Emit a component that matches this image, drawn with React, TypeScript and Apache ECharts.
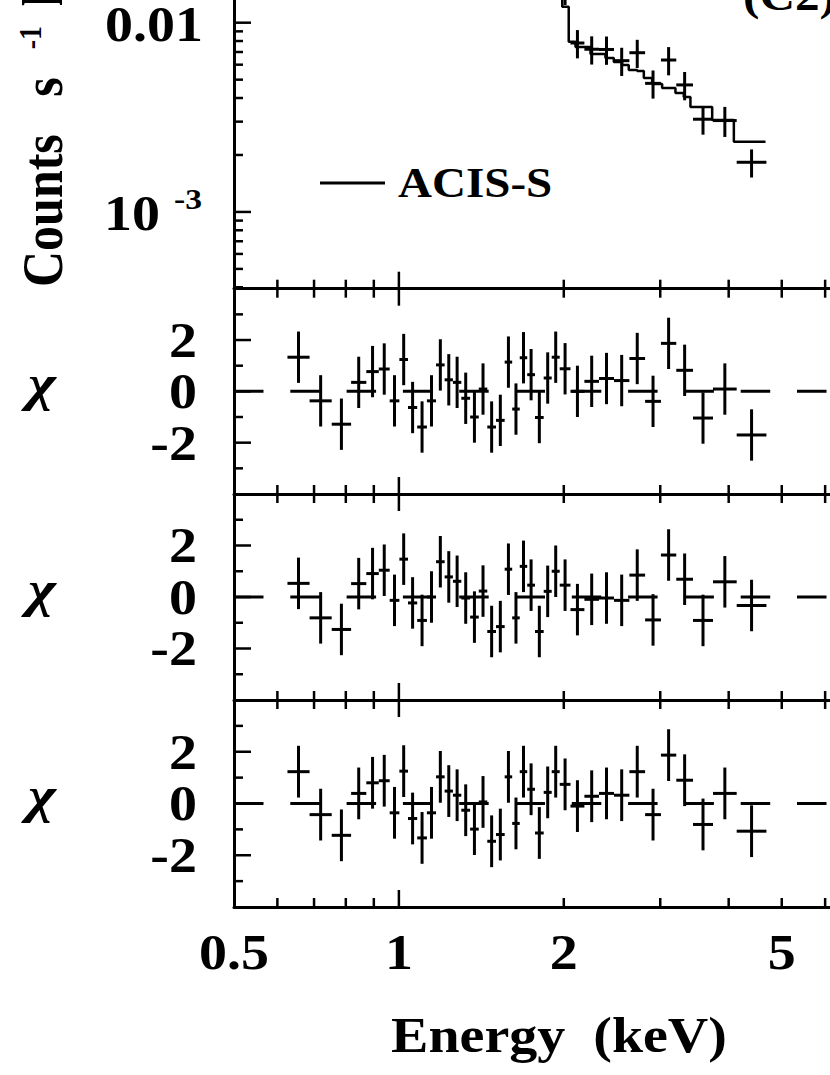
import React, { useEffect, useRef } from "react";
import * as echarts from "echarts";

// ---------- data ----------
// energy bin edges (keV) shared by the spectrum and the three residual panels
const binEdges = [0.626, 0.687, 0.754, 0.818, 0.872, 0.919, 0.962, 1.002, 1.039, 1.080, 1.125, 1.169, 1.212, 1.255, 1.300, 1.349, 1.399, 1.450, 1.504, 1.560, 1.610, 1.662, 1.715, 1.772, 1.838, 1.901, 1.966, 2.057, 2.181, 2.319, 2.470, 2.635, 2.815, 3.009, 3.209, 3.443, 3.745, 4.137, 4.688];

// count rates (counts s^-1 keV^-1); the low-energy bins lie above the visible crop
const countRates = [0.030, 0.042, 0.050, 0.061, 0.068, 0.074, 0.072, 0.085, 0.080, 0.072, 0.075, 0.082, 0.076, 0.071, 0.062, 0.055, 0.054, 0.045, 0.041, 0.046, 0.036, 0.037, 0.031, 0.024, 0.025, 0.024, 0.0150, 0.00781, 0.00724, 0.00722, 0.00630, 0.00694, 0.00478, 0.00635, 0.00469, 0.00309, 0.00304, 0.00183];
const countErrors = [0.005, 0.006, 0.007, 0.008, 0.008, 0.009, 0.008, 0.009, 0.009, 0.008, 0.008, 0.009, 0.008, 0.008, 0.007, 0.007, 0.007, 0.006, 0.006, 0.006, 0.005, 0.005, 0.005, 0.004, 0.004, 0.004, 0.0026, 0.00133, 0.00123, 0.00123, 0.00107, 0.00118, 0.00081, 0.00108, 0.00080, 0.00053, 0.00055, 0.00031];

// folded model (step function): left edges of each step (+ final end) and levels
const modelEnergies = [0.626, 0.687, 0.754, 0.818, 0.872, 0.919, 0.962, 1.002, 1.039, 1.080, 1.125, 1.169, 1.212, 1.255, 1.300, 1.349, 1.399, 1.450, 1.504, 1.560, 1.610, 1.662, 1.715, 1.772, 1.838, 1.901, 1.987, 2.042, 2.101, 2.238, 2.383, 2.468, 2.556, 2.628, 2.723, 2.800, 2.900, 3.024, 3.198, 3.312, 3.406, 3.732, 4.088, 4.670];
const modelRates = [0.026, 0.043, 0.053, 0.060, 0.065, 0.070, 0.075, 0.080, 0.082, 0.078, 0.076, 0.077, 0.074, 0.070, 0.064, 0.058, 0.052, 0.048, 0.044, 0.042, 0.039, 0.035, 0.032, 0.028, 0.025, 0.022, 0.01215, 0.00794, 0.00744, 0.00684, 0.00651, 0.00620, 0.00598, 0.00563, 0.00556, 0.00510, 0.00474, 0.00452, 0.00425, 0.00405, 0.00359, 0.00306, 0.00235];

// residuals (chi) for the three fits
const chiPanelA = [1.33, -0.37, -1.28, 0.35, 0.77, 0.87, -0.37, 1.24, -0.63, -1.39, -0.37, 1.03, 0.45, 0.35, -0.27, -1.0, 0.09, -1.39, -1.13, 1.14, -0.69, 1.31, 0.65, -1.02, 0.52, 1.33, 0.88, 0, 0.39, 0.5, 0.42, 1.28, -0.39, 1.87, 0.82, -1.04, 0.09, -1.7];
const chiPanelB = [0.53, -0.81, -1.26, 0.52, 0.91, 1.04, -0.13, 1.47, -0.23, -0.91, 0, 1.37, 0.78, 0.61, -0.04, -0.78, 0.23, -1.34, -1.15, 1.08, -0.81, 1.19, 0.46, -1.34, 0.22, 1.0, 0.46, -0.49, -0.09, -0.04, -0.13, 0.85, -0.89, 1.63, 0.69, -0.91, 0.59, -0.33];
const chiPanelC = [1.23, -0.43, -1.23, 0.39, 0.8, 0.88, -0.36, 1.25, -0.58, -1.33, -0.36, 1.03, 0.48, 0.32, -0.26, -0.99, 0.06, -1.46, -1.2, 1.03, -0.77, 1.23, 0.55, -1.14, 0.43, 1.23, 0.74, -0.1, 0.28, 0.39, 0.32, 1.23, -0.43, 1.87, 0.9, -0.81, 0.39, -1.07];
const chiError = 1;

// axis ranges (the figure is cropped at its top and right edges)
const energyMin = 0.5;
const energyMax = 6.124;
const rateMin = 0.000393;
const rateMax = 0.01318;

// ticks and labels
const xMajorTicks = [1];
const xMinorTicks = [0.6, 0.7, 0.8, 0.9, 2, 3, 4, 5, 6];
const xLabelValues = [0.5, 1, 2, 5];
const xLabelTexts = ["0.5", "1", "2", "5"];
const rateMajorTicks = [0.001, 0.01];
const rateMinorTicks = [0.0004, 0.0005, 0.0006, 0.0007, 0.0008, 0.0009, 0.002, 0.003, 0.004, 0.005, 0.006, 0.007, 0.008, 0.009];
const rateLabelValues = [0.01, 0.001];
const rateLabelMantissa = ["0.01", "10"];
const rateLabelExponent = ["", "-3"];
const chiMajorTicks = [-2, 0, 2];
const chiMinorTicks = [-3, -1, 1, 3];
const chiLabelValues = [-2, 0, 2];
const chiLabelTexts = ["-2", "0", "2"];

// ---------- style ----------
const FONT = '"Liberation Serif", "Times New Roman", serif';
const INK = "#000";
const STRETCH = 1.12;

const grids = [
  { left: 234, right: 0, top: 0, height: 288.7 },
  { left: 234, right: 0, top: 288.7, height: 205.3 },
  { left: 234, right: 0, top: 494, height: 206 },
  { left: 234, right: 0, top: 700, height: 207 },
];

function textStyle(text: string, size: number, align: string, italic = false) {
  return {
    text,
    x: 0,
    y: 0,
    fill: INK,
    fontFamily: FONT,
    fontWeight: "bold",
    fontStyle: italic ? "italic" : "normal",
    fontSize: size,
    align,
    textAlign: align,
    verticalAlign: "middle",
    textVerticalAlign: "middle",
  };
}

function textEl(x: number, y: number, text: string, size: number, align: string, scaleX = STRETCH, italic = false) {
  return { type: "text", x, y, scaleX, style: textStyle(text, size, align, italic) };
}

const lineStyle = (w: number) => ({ stroke: INK, lineWidth: w, fill: null });

const crossItem = (params: any, api: any) => {
  const lo = api.value(0);
  const hi = api.value(1);
  const v = api.value(2);
  const e = api.value(3);
  const c = Math.sqrt(lo * hi);
  const a = api.coord([lo, v]);
  const b = api.coord([hi, v]);
  const t = api.coord([c, v + e]);
  const d = api.coord([c, v - e]);
  return {
    type: "group",
    children: [
      { type: "line", shape: { x1: a[0], y1: a[1], x2: b[0], y2: b[1] }, style: lineStyle(3) },
      { type: "line", shape: { x1: t[0], y1: t[1], x2: d[0], y2: d[1] }, style: lineStyle(3) },
    ],
  };
};

const makeXTickItem = (withTop: boolean) => (params: any, api: any) => {
  const cs = params.coordSys;
  const x = api.coord([api.value(0), api.value(1)])[0];
  const len = api.value(2) ? 17 : 9;
  const yb = cs.y + cs.height;
  const children: any[] = [
    { type: "line", shape: { x1: x, y1: yb, x2: x, y2: yb - len }, style: lineStyle(2.5) },
  ];
  if (withTop) {
    children.push({ type: "line", shape: { x1: x, y1: cs.y, x2: x, y2: cs.y + len }, style: lineStyle(2.5) });
  }
  return { type: "group", children };
};

const yTickItem = (params: any, api: any) => {
  const cs = params.coordSys;
  const y = api.coord([api.value(0), api.value(1)])[1];
  const len = api.value(2) ? 17 : 9;
  return { type: "line", shape: { x1: cs.x, y1: y, x2: cs.x + len, y2: y }, style: lineStyle(2.5) };
};

const xLabelItem = (params: any, api: any) => {
  const cs = params.coordSys;
  const p = api.coord([api.value(0), api.value(1)]);
  return textEl(p[0], cs.y + cs.height + 45, xLabelTexts[api.value(2)], 50, "center");
};

const chiLabelItem = (params: any, api: any) => {
  const cs = params.coordSys;
  const p = api.coord([api.value(0), api.value(1)]);
  return textEl(cs.x - 37, p[1], chiLabelTexts[api.value(2)], 50, "right");
};

const rateLabelItem = (params: any, api: any) => {
  const cs = params.coordSys;
  const p = api.coord([api.value(0), api.value(1)]);
  const idx = api.value(2);
  const exp = rateLabelExponent[idx];
  if (!exp) {
    return textEl(cs.x - 31, p[1] + 1, rateLabelMantissa[idx], 50, "right");
  }
  return {
    type: "group",
    children: [
      textEl(cs.x - 74, p[1] + 1, rateLabelMantissa[idx], 50, "right"),
      textEl(cs.x - 60, p[1] - 13, exp, 30, "left"),
    ],
  };
};

function buildOption() {
  const panels = [chiPanelA, chiPanelB, chiPanelC];
  const series: any[] = [];

  // ---- spectrum panel ----
  series.push({
    type: "custom",
    name: "data",
    xAxisIndex: 0,
    yAxisIndex: 0,
    silent: true,
    clip: true,
    renderItem: crossItem,
    encode: { x: [0, 1], y: 2 },
    data: countRates.map((r, i) => [binEdges[i], binEdges[i + 1], r, countErrors[i]]),
  });
  series.push({
    type: "line",
    name: "ACIS-S",
    xAxisIndex: 0,
    yAxisIndex: 0,
    step: "end",
    symbol: "none",
    silent: true,
    lineStyle: { color: INK, width: 2.5 },
    data: modelEnergies.map((e, i) => [e, modelRates[Math.min(i, modelRates.length - 1)]]),
  });
  series.push({
    type: "custom",
    xAxisIndex: 0,
    yAxisIndex: 0,
    silent: true,
    renderItem: makeXTickItem(false),
    encode: { x: 0, y: 1 },
    data: [...xMinorTicks.map((v) => [v, 0.001, 0]), ...xMajorTicks.map((v) => [v, 0.001, 1])],
  });
  series.push({
    type: "custom",
    xAxisIndex: 0,
    yAxisIndex: 0,
    silent: true,
    renderItem: yTickItem,
    encode: { x: 0, y: 1 },
    data: [...rateMinorTicks.map((v) => [1, v, 0]), ...rateMajorTicks.map((v) => [1, v, 1])],
  });
  series.push({
    type: "custom",
    xAxisIndex: 0,
    yAxisIndex: 0,
    silent: true,
    renderItem: rateLabelItem,
    encode: { x: 0, y: 1 },
    data: rateLabelValues.map((v, i) => [1, v, i]),
  });

  // ---- residual panels ----
  panels.forEach((chi, k) => {
    const gi = k + 1;
    series.push({
      type: "line",
      xAxisIndex: gi,
      yAxisIndex: gi,
      symbol: "none",
      silent: true,
      lineStyle: { color: INK, width: 3, type: [29.5, 26.8], dashOffset: 0 },
      data: [
        [energyMin, 0],
        [energyMax, 0],
      ],
    });
    series.push({
      type: "custom",
      xAxisIndex: gi,
      yAxisIndex: gi,
      silent: true,
      renderItem: crossItem,
      encode: { x: [0, 1], y: 2 },
      data: chi.map((v, i) => [binEdges[i], binEdges[i + 1], v, chiError]),
    });
    series.push({
      type: "custom",
      xAxisIndex: gi,
      yAxisIndex: gi,
      silent: true,
      renderItem: makeXTickItem(true),
      encode: { x: 0, y: 1 },
      data: [...xMinorTicks.map((v) => [v, 0, 0]), ...xMajorTicks.map((v) => [v, 0, 1])],
    });
    series.push({
      type: "custom",
      xAxisIndex: gi,
      yAxisIndex: gi,
      silent: true,
      renderItem: yTickItem,
      encode: { x: 0, y: 1 },
      data: [...chiMinorTicks.map((v) => [1, v, 0]), ...chiMajorTicks.map((v) => [1, v, 1])],
    });
    series.push({
      type: "custom",
      xAxisIndex: gi,
      yAxisIndex: gi,
      silent: true,
      renderItem: chiLabelItem,
      encode: { x: 0, y: 1 },
      data: chiLabelValues.map((v, i) => [1, v, i]),
    });
  });

  series.push({
    type: "custom",
    xAxisIndex: 3,
    yAxisIndex: 3,
    silent: true,
    renderItem: xLabelItem,
    encode: { x: 0, y: 1 },
    data: xLabelValues.map((v, i) => [v, -4, i]),
  });

  const axisLine = { show: true, onZero: false, lineStyle: { color: INK, width: 3 } };
  const hidden = { axisTick: { show: false }, axisLabel: { show: false }, splitLine: { show: false } };

  const chiCenters = grids.slice(1).map((g) => g.top + g.height / 2);

  const graphicElements: any[] = [
    {
      type: "text",
      x: 43,
      y: 287,
      rotation: Math.PI / 2,
      scaleY: STRETCH,
      style: {
        text: "{a|Counts\u00a0\u00a0\u00a0s}{b|\u00a0\u00a0\u00a0\u00a0-1}{a|\u00a0}{b|\u00a0}{a|keV}{b|-1}",
        fill: INK,
        align: "left",
        textAlign: "left",
        verticalAlign: "middle",
        textVerticalAlign: "middle",
        rich: {
          a: { fontFamily: FONT, fontWeight: "bold", fontSize: 50, fill: INK },
          b: { fontFamily: FONT, fontWeight: "bold", fontSize: 28, fill: INK, verticalAlign: "top" },
        },
      },
    },
    ...chiCenters.map((cy) => textEl(42, cy - 8, "\u03c7", 50, "center", 1.2, true)),
    textEl(559, 1035, "Energy\u00a0\u00a0(keV)", 50, "center"),
    { type: "line", shape: { x1: 320, y1: 183, x2: 385, y2: 183 }, style: lineStyle(3) },
    textEl(398, 183, "ACIS-S", 42, "left"),
    textEl(743, -4.6, "(C2)", 44, "left"),
  ];

  return {
    animation: false,
    backgroundColor: "#fff",
    grid: grids.map((g) => ({ ...g, containLabel: false })),
    xAxis: grids.map((_, i) => ({
      type: "log",
      logBase: 10,
      gridIndex: i,
      min: energyMin,
      max: energyMax,
      axisLine,
      ...hidden,
    })),
    yAxis: grids.map((_, i) =>
      i === 0
        ? { type: "log", logBase: 10, gridIndex: 0, min: rateMin, max: rateMax, axisLine, ...hidden }
        : { type: "value", gridIndex: i, min: -4, max: 4, interval: 2, axisLine, ...hidden }
    ),
    series,
    graphic: { elements: graphicElements },
  };
}

export default function App() {
  const ref = useRef<HTMLDivElement>(null);
  useEffect(() => {
    if (!ref.current) return;
    const chart = echarts.init(ref.current, null, { renderer: "svg" });
    chart.setOption(buildOption() as any);
    return () => chart.dispose();
  }, []);
  return (
    <div
      ref={ref}
      style={{ position: "absolute", left: 0, top: 0, width: 830, height: 1075, background: "#fff" }}
    />
  );
}
